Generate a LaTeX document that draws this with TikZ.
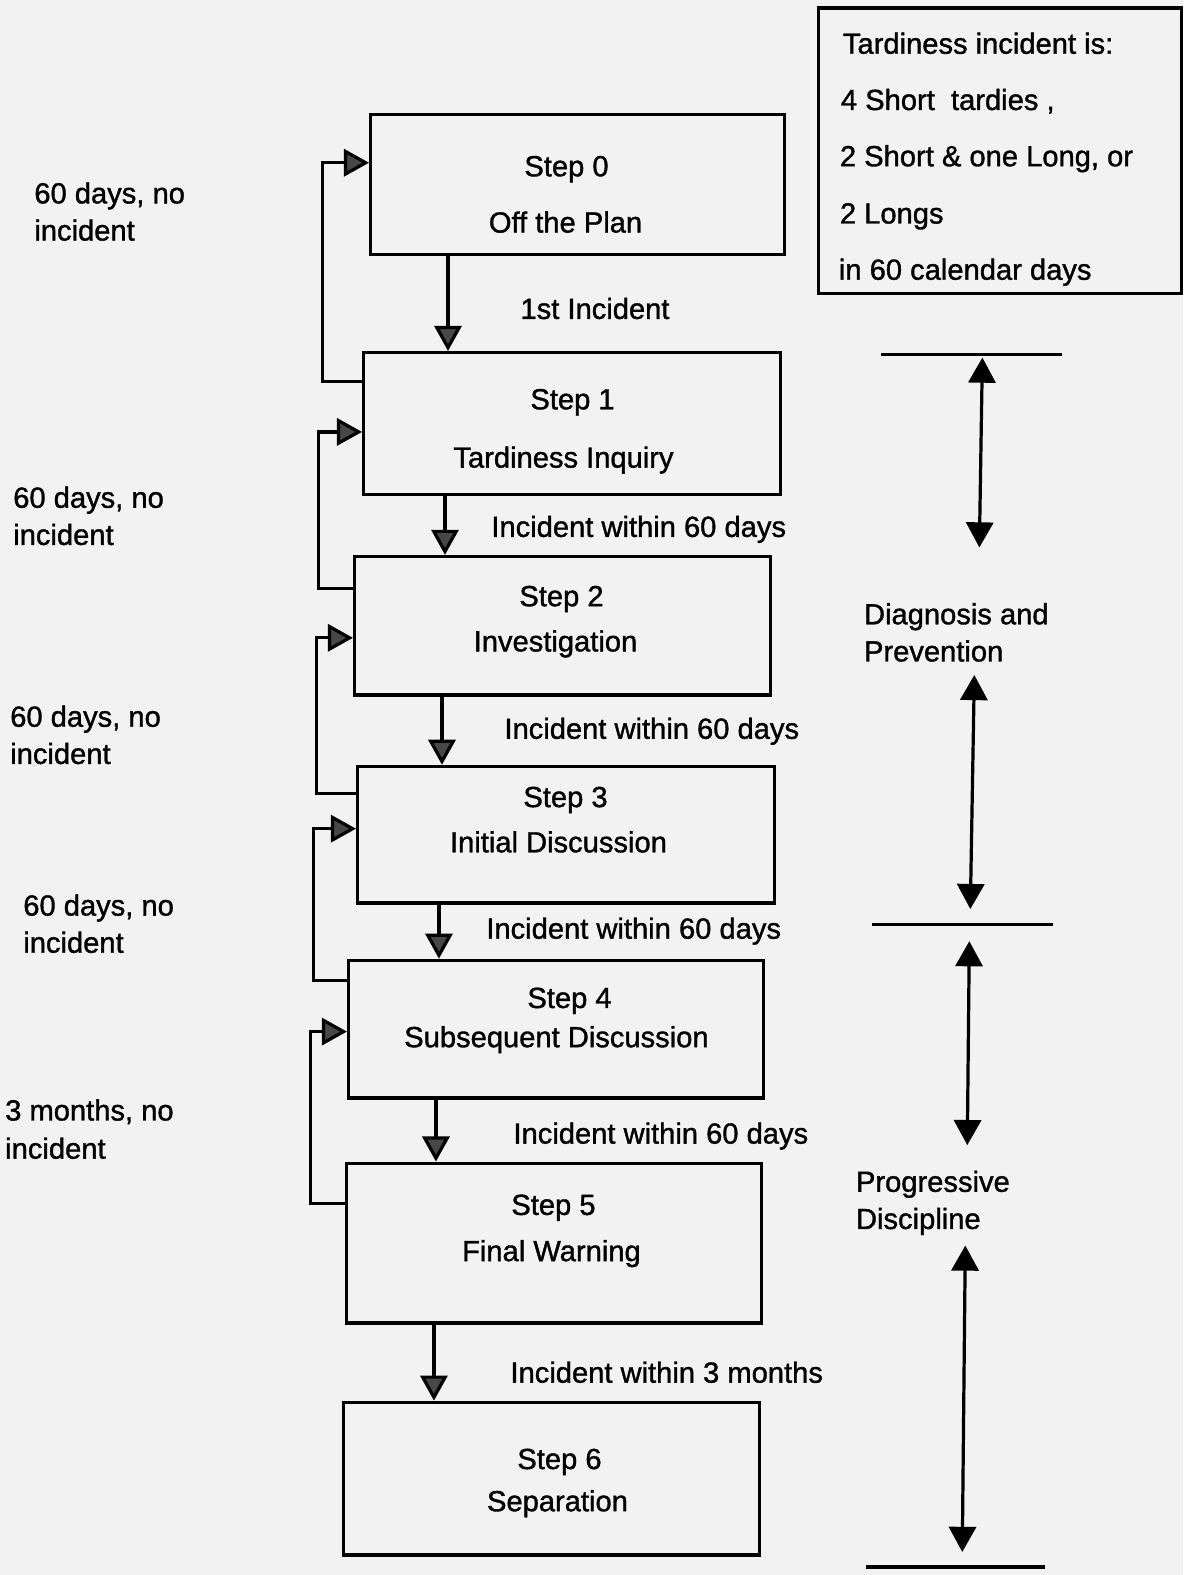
\documentclass[tikz,border=0pt]{standalone}
\usepackage{fontspec}
\setmainfont[FakeBold=1.2]{Liberation Sans}
\usetikzlibrary{arrows.meta}
\begin{document}
\begin{tikzpicture}[x=1pt,y=-1pt,
  lbl/.style={font=\fontsize{29}{34}\selectfont, inner sep=0pt, text height=21pt, text depth=0pt, anchor=west},
  ctr/.style={lbl, anchor=center},
  stepbox/.style={draw, line width=3.2pt, rectangle, inner sep=0pt},
  arr/.style={line width=3.2pt, -{Triangle[length=25pt,width=27pt,fill=black!72]}},
  darr/.style={line width=3.2pt, {Triangle[length=25pt,width=27pt]}-{Triangle[length=25pt,width=27pt]}},
  plain/.style={line width=3.2pt}
]
\fill[black!5] (0,0) rectangle (1178,1568);
\useasboundingbox (0,0) rectangle (1178,1568);

% step boxes
\node[stepbox, minimum width=412pt, minimum height=139pt] (s0) at (575,183.5) {};
\node[stepbox, minimum width=415pt, minimum height=141pt] (s1) at (569.5,421.5) {};
\node[stepbox, minimum width=414pt, minimum height=138pt] (s2) at (560,623) {};
\node[stepbox, minimum width=415pt, minimum height=136pt] (s3) at (563.5,831) {};
\node[stepbox, minimum width=413pt, minimum height=137pt] (s4) at (553.5,1024.5) {};
\node[stepbox, minimum width=413pt, minimum height=159pt] (s5) at (551.5,1237.5) {};
\node[stepbox, minimum width=414pt, minimum height=152pt] (s6) at (549,1472) {};
\node[stepbox, minimum width=361pt, minimum height=284pt] (info) at (995.5,150) {};

% box texts
\node[ctr] (t0a) at (564,165) {Step 0};
\node[ctr] (t0b) at (563,221) {Off the Plan};
\node[ctr] (t1a) at (570,397) {Step 1};
\node[ctr] (t1b) at (561,455) {Tardiness Inquiry};
\node[ctr] (t2a) at (559,593) {Step 2};
\node[ctr] (t2b) at (553,638) {Investigation};
\node[ctr] (t3a) at (563,793) {Step 3};
\node[ctr] (t3b) at (556,838) {Initial Discussion};
\node[ctr] (t4a) at (567,993) {Step 4};
\node[ctr] (t4b) at (554,1032) {Subsequent Discussion};
\node[ctr] (t5a) at (551,1199) {Step 5};
\node[ctr] (t5b) at (549,1245) {Final Warning};
\node[ctr] (t6a) at (557,1452) {Step 6};
\node[ctr] (t6b) at (555,1494) {Separation};

% info box text
\node[lbl] (i1) at (839,43) {Tardiness incident is:};
\node[lbl] (i2) at (837,99) {4 Short\ \ tardies ,};
\node[lbl] (i3) at (836,155) {2 Short \& one Long, or};
\node[lbl] (i4) at (836,212) {2 Longs};
\node[lbl] (i5) at (835,268) {in 60 calendar days};

% down arrows
\draw[arr] (446,0 |- s0.south) -- (446,0 |- s1.north);
\draw[arr] (443,0 |- s1.south) -- (443,0 |- s2.north);
\draw[arr] (440,0 |- s2.south) -- (440,0 |- s3.north);
\draw[arr] (437,0 |- s3.south) -- (437,0 |- s4.north);
\draw[arr] (434,0 |- s4.south) -- (434,0 |- s5.north);
\draw[arr] (432,0 |- s5.south) -- (432,0 |- s6.north);

% edge labels
\node[lbl] (e1) at (518,307) {1st Incident};
\node[lbl] (e2) at (489,524) {Incident within 60 days};
\node[lbl] (e3) at (502,725) {Incident within 60 days};
\node[lbl] (e4) at (484,924) {Incident within 60 days};
\node[lbl] (e5) at (511,1128) {Incident within 60 days};
\node[lbl] (e6) at (508,1366) {Incident within 3 months};

% feedback loops
\draw[arr] (s1.west |- 0,380) -| (321,162) -- (s0.west |- 0,162);
\draw[arr] (s2.west |- 0,586) -| (317,430) -- (s1.west |- 0,430);
\draw[arr] (s3.west |- 0,790) -| (315,635) -- (s2.west |- 0,635);
\draw[arr] (s4.west |- 0,976) -| (312,825) -- (s3.west |- 0,825);
\draw[arr] (s5.west |- 0,1198) -| (309,1027) -- (s4.west |- 0,1027);

% left labels
\node[lbl] (l1a) at (34,192) {60 days, no};
\node[lbl] (l1b) at (34,229) {incident};
\node[lbl] (l2a) at (13,495) {60 days, no};
\node[lbl] (l2b) at (13,532) {incident};
\node[lbl] (l3a) at (10,713) {60 days, no};
\node[lbl] (l3b) at (10,750) {incident};
\node[lbl] (l4a) at (23,901) {60 days, no};
\node[lbl] (l4b) at (23,938) {incident};
\node[lbl] (l5a) at (5,1105) {3 months, no};
\node[lbl] (l5b) at (5,1143) {incident};

% right side
\coordinate (r1a) at (877,353); \coordinate (r1b) at (1057,353);
\coordinate (r2a) at (868,920); \coordinate (r2b) at (1048,920);
\coordinate (r3a) at (862,1560); \coordinate (r3b) at (1040,1560);
\draw[plain] (r1a) -- (r1b);
\draw[plain] (r2a) -- (r2b);
\draw[plain] (r3a) -- (r3b);
\coordinate (d1t) at (978,356); \coordinate (d1b) at (975,545);
\coordinate (d2t) at (970,672); \coordinate (d2b) at (966,905);
\coordinate (d3t) at (965,937); \coordinate (d3b) at (963,1140);
\coordinate (d4t) at (961,1240); \coordinate (d4b) at (958,1545);
\draw[darr] (d1t) -- (d1b);
\draw[darr] (d2t) -- (d2b);
\draw[darr] (d3t) -- (d3b);
\draw[darr] (d4t) -- (d4b);
\node[lbl] (dp1) at (860,611) {Diagnosis and};
\node[lbl] (dp2) at (860,648) {Prevention};
\node[lbl] (pd1) at (852,1176) {Progressive};
\node[lbl] (pd2) at (852,1213) {Discipline};
\end{tikzpicture}
\end{document}
